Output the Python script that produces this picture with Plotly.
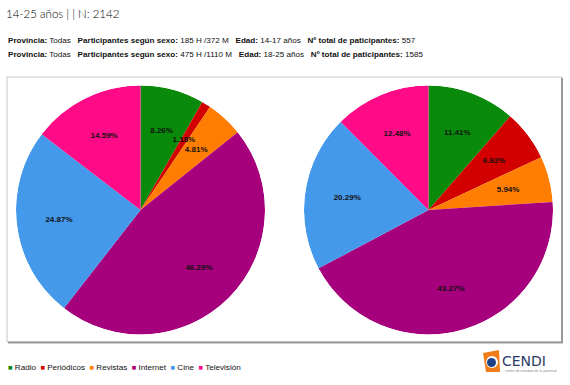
import plotly.graph_objects as go

W, H = 570, 385

categories = ["Radio", "Periódicos", "Revistas", "Internet", "Cine", "Televisión"]
colors = ["#0a8a0a", "#d20000", "#ff7d00", "#a6007d", "#4499ea", "#ff0a87"]
values_14_17 = [8.26, 1.18, 4.81, 46.29, 24.87, 14.59]
values_18_25 = [11.41, 6.62, 5.94, 43.27, 20.29, 12.48]

title_text = "14-25 años | | N: 2142"
info_14_17 = {"Provincia:": "Todas", "Participantes según sexo:": "185 H /372 M",
              "Edad:": "14-17 años", "Nº total de paticipantes:": "557"}
info_18_25 = {"Provincia:": "Todas", "Participantes según sexo:": "475 H /1110 M",
              "Edad:": "18-25 años", "Nº total de paticipantes:": "1585"}


def px_x(v):
    return v / W


def px_y(v):
    return 1 - v / H


fig = go.Figure()

pies = [("polar", values_14_17, [px_x(16), px_x(265)]),
        ("polar2", values_18_25, [px_x(304), px_x(553)])]

for sub, vals, dom_x in pies:
    total = sum(vals)
    widths = [v / total * 360 for v in vals]
    mids = []
    acc = 0
    for w in widths:
        mids.append(acc + w / 2)
        acc += w
    fig.add_trace(go.Barpolar(
        r=[1] * len(vals), theta=mids, width=widths,
        marker=dict(color=colors, line=dict(width=0)),
        subplot=sub, showlegend=False,
        customdata=categories, hovertemplate="%{customdata}<extra></extra>",
    ))
    fig.add_trace(go.Scatterpolar(
        r=[0.66] * len(vals), theta=mids, mode="text",
        text=[f"{v:.2f}%" for v in vals],
        textposition="middle center",
        textfont=dict(family="Arial, Liberation Sans", size=8, color="#111", weight="bold"),
        subplot=sub, showlegend=False, hoverinfo="skip",
    ))
    fig.update_layout(**{sub: dict(
        domain=dict(x=dom_x, y=[px_y(335), px_y(85)]),
        bgcolor="rgba(0,0,0,0)",
        bargap=0, hole=0,
        radialaxis=dict(range=[0, 1], visible=False, showgrid=False),
        angularaxis=dict(visible=False, showgrid=False, rotation=90,
                         direction="clockwise"),
    )})


def info_line(d):
    parts = [f"<b>{k}</b> {v}" for k, v in d.items()]
    return "&nbsp;&nbsp;&nbsp;".join(parts)


annotations = [
    dict(text=title_text, x=px_x(4), y=px_y(13), xref="paper", yref="paper",
         xanchor="left", yanchor="middle", showarrow=False,
         font=dict(family="Lato", size=11.5, color="#000", weight=300)),
    dict(text=info_line(info_14_17), x=px_x(6), y=px_y(40), xref="paper", yref="paper",
         xanchor="left", yanchor="middle", showarrow=False,
         font=dict(family="Arial, Liberation Sans", size=8.1, color="#111")),
    dict(text=info_line(info_18_25), x=px_x(6), y=px_y(54), xref="paper", yref="paper",
         xanchor="left", yanchor="middle", showarrow=False,
         font=dict(family="Arial, Liberation Sans", size=8.1, color="#111")),
]

legend_text = "&nbsp;&nbsp;".join(
    f"<span style='color:{c};font-size:7.5px'>■</span> {cat}" for cat, c in zip(categories, colors))
annotations.append(dict(text=legend_text, x=px_x(6), y=px_y(367), xref="paper", yref="paper",
                        xanchor="left", yanchor="middle", showarrow=False,
                        font=dict(family="Arial, Liberation Sans", size=8.1, color="#111")))

# logo text
annotations.append(dict(text="CENDI", x=px_x(500), y=px_y(361), xref="paper", yref="paper",
                        xanchor="left", yanchor="middle", showarrow=False,
                        font=dict(family="DejaVu Sans", size=14, color="#2b3a66")))
annotations.append(dict(text="centro de estudios de la juventud", x=px_x(503), y=px_y(371),
                        xref="paper", yref="paper", xanchor="left", yanchor="middle",
                        showarrow=False,
                        font=dict(family="Arial, Liberation Sans", size=3.5, color="#888")))

shapes = [
    # frame
    dict(type="rect", xref="paper", yref="paper", x0=px_x(7), x1=px_x(562),
         y0=px_y(342), y1=px_y(77), line=dict(color="#c8c8c8", width=1)),
    dict(type="line", xref="paper", yref="paper", x0=px_x(562), x1=px_x(562),
         y0=px_y(78), y1=px_y(343), line=dict(color="#999", width=2)),
    dict(type="line", xref="paper", yref="paper", x0=px_x(8), x1=px_x(563),
         y0=px_y(342.5), y1=px_y(342.5), line=dict(color="#999", width=2)),
    # logo
    dict(type="path", xref="paper", yref="paper",
         path=(f"M {px_x(483)} {px_y(353)} L {px_x(499)} {px_y(350)} "
               f"L {px_x(500)} {px_y(372)} L {px_x(486)} {px_y(372)} Z"),
         fillcolor="#f07d1a", line=dict(width=0)),
    dict(type="circle", xref="paper", yref="paper", x0=px_x(486), x1=px_x(498),
         y0=px_y(368), y1=px_y(356), fillcolor="#ffffff", line=dict(width=0)),
    dict(type="circle", xref="paper", yref="paper", x0=px_x(487), x1=px_x(496),
         y0=px_y(367), y1=px_y(358), fillcolor="#1f3f86", line=dict(width=0)),
]

fig.update_layout(
    width=W, height=H,
    margin=dict(l=0, r=0, t=0, b=0),
    paper_bgcolor="white",
    plot_bgcolor="white",
    annotations=annotations,
    shapes=shapes,
)

fig.write_html("out.html", config={"displayModeBar": False},
               post_script="document.body.style.margin='0';")
